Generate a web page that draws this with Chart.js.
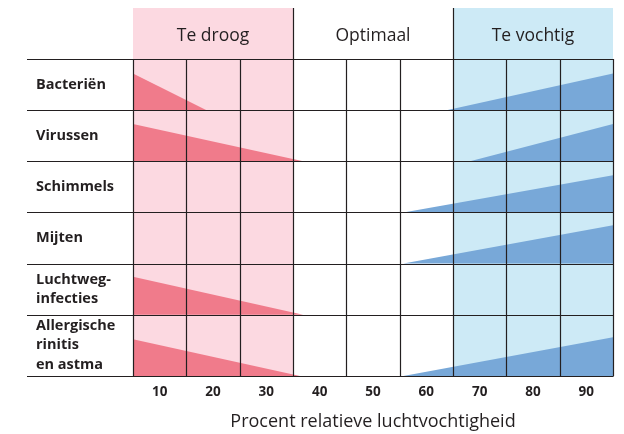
<!DOCTYPE html>
<html>
<head>
<meta charset="utf-8">
<script src="https://cdn.jsdelivr.net/npm/chart.js@4.4.1/dist/chart.umd.min.js"></script>
<style>
  html, body { margin: 0; padding: 0; background: #fff; }
  #wrap { width: 624px; height: 434px; }
</style>
</head>
<body>
<div id="wrap"><canvas id="rvChart" width="624" height="434"></canvas></div>
<script>
const categories = [
  "Bacteriën",
  "Virussen",
  "Schimmels",
  "Mijten",
  ["Luchtweg-", "infecties"],
  ["Allergische", "rinitis", "en astma"],
];
// where the "too dry" risk falls to zero (% RV), and its height at 5 %
const dryEnd = [18.8, 36.9, null, null, 36.9, 36.3];
const dryPeak = [0.72, 0.73, null, null, 0.74, 0.72];
// where the "too humid" risk begins (% RV), and its height at 95 %
const wetStart = [63.8, 68.2, 55.7, 55.7, null, 55.7];
const wetPeak = [0.72, 0.73, 0.73, 0.75, null, 0.76];

const zoneLabels = ["Te droog", "Optimaal", "Te vochtig"];
const zoneEdges = [5, 35, 65, 95];
const xTicks = [10, 20, 30, 40, 50, 60, 70, 80, 90];
const gridX = [5, 15, 25, 35, 45, 55, 65, 75, 85, 95];
// row edges on the y scale: header 0-1, then one band per category
const rowEdges = [0, 1, 2, 3, 4, 5, 6, 7.2];

const ink = "#231f20";
const pinkLight = "#fcd9e1";
const pinkDark = "#f07b8b";
const blueLight = "#cdeaf6";
const blueDark = "#78a8d8";

const datasets = [];
categories.forEach((c, i) => {
  const base = rowEdges[i + 2];
  if (dryEnd[i] !== null) {
    datasets.push({
      data: [{ x: 5, y: base - dryPeak[i] }, { x: dryEnd[i], y: base }],
      backgroundColor: pinkDark,
      borderWidth: 0,
      pointRadius: 0,
      fill: { value: base },
    });
  }
  if (wetStart[i] !== null) {
    datasets.push({
      data: [{ x: wetStart[i], y: base }, { x: 95, y: base - wetPeak[i] }],
      backgroundColor: blueDark,
      borderWidth: 0,
      pointRadius: 0,
      fill: { value: base },
    });
  }
});

const tablePlugin = {
  id: "table",
  beforeDatasetsDraw(chart) {
    const { ctx, scales: { x, y } } = chart;
    const top = y.getPixelForValue(rowEdges[0]);
    const bottom = y.getPixelForValue(rowEdges[rowEdges.length - 1]);
    ctx.save();
    ctx.fillStyle = pinkLight;
    ctx.fillRect(x.getPixelForValue(zoneEdges[0]), top,
      x.getPixelForValue(zoneEdges[1]) - x.getPixelForValue(zoneEdges[0]), bottom - top);
    ctx.fillStyle = blueLight;
    ctx.fillRect(x.getPixelForValue(zoneEdges[2]), top,
      x.getPixelForValue(zoneEdges[3]) - x.getPixelForValue(zoneEdges[2]), bottom - top);

    // zone headings
    ctx.fillStyle = ink;
    ctx.font = "17.5px 'Open Sans'";
    ctx.textAlign = "center";
    ctx.textBaseline = "middle";
    const midY = y.getPixelForValue((rowEdges[0] + rowEdges[1]) / 2) + 2;
    zoneLabels.forEach((t, i) => {
      const cx = x.getPixelForValue((zoneEdges[i] + zoneEdges[i + 1]) / 2);
      ctx.fillText(t, cx, midY);
    });
    ctx.restore();
  },
  afterDatasetsDraw(chart) {
    const { ctx, scales: { x, y } } = chart;
    ctx.save();
    ctx.strokeStyle = ink;
    ctx.lineWidth = 1.2;
    const right = x.getPixelForValue(95);
    const left = y.left - 9;
    // horizontal row lines
    rowEdges.slice(1).forEach((v) => {
      const py = Math.round(y.getPixelForValue(v)) + 0.5;
      ctx.beginPath();
      ctx.moveTo(left, py);
      ctx.lineTo(right + 0.6, py);
      ctx.stroke();
    });
    // vertical lines; zone borders run up through the header
    const bottom = y.getPixelForValue(rowEdges[rowEdges.length - 1]);
    gridX.forEach((v) => {
      const px = Math.round(x.getPixelForValue(v)) + 0.5;
      const fromY = (v === zoneEdges[1] || v === zoneEdges[2]) ? rowEdges[0] : rowEdges[1];
      ctx.beginPath();
      ctx.moveTo(px, y.getPixelForValue(fromY));
      ctx.lineTo(px, bottom);
      ctx.stroke();
    });
    ctx.restore();
  },
};

const ctx = document.getElementById("rvChart").getContext("2d");
new Chart(ctx, {
  type: "line",
  data: { datasets },
  options: {
    responsive: false,
    animation: false,
    layout: { padding: { left: 36, right: 11, top: 8, bottom: 0 } },
    plugins: { legend: { display: false }, tooltip: { enabled: false } },
    scales: {
      x: {
        type: "linear",
        min: 5,
        max: 95,
        afterBuildTicks: (scale) => {
          scale.ticks = xTicks.map((v) => ({ value: v }));
        },
        afterFit: (scale) => {
          scale.height = 58;
          scale.paddingLeft = 0;
          scale.paddingRight = 0;
        },
        grid: { display: false, drawTicks: false },
        border: { display: false },
        ticks: {
          color: ink,
          padding: 8,
          maxRotation: 0,
          font: { family: "'Open Sans'", size: 13.5, weight: "bold" },
        },
        title: {
          display: true,
          text: "Procent relatieve luchtvochtigheid",
          color: ink,
          font: { family: "'Open Sans'", size: 18 },
          padding: { top: 9, bottom: 1 },
        },
      },
      y: {
        type: "linear",
        reverse: true,
        min: rowEdges[0],
        max: rowEdges[rowEdges.length - 1],
        afterBuildTicks: (scale) => {
          scale.ticks = categories.map((c, i) => ({ value: (rowEdges[i + 1] + rowEdges[i + 2]) / 2 }));
        },
        afterFit: (scale) => {
          scale.width = 97;
          scale.paddingTop = 0;
          scale.paddingBottom = 0;
        },
        grid: { display: false, drawTicks: false },
        border: { display: false },
        ticks: {
          color: ink,
          crossAlign: "far",
          autoSkip: false,
          callback: (value, index) => categories[index],
          font: { family: "'Open Sans'", size: 14.5, weight: "bold", lineHeight: 1.32 },
        },
      },
    },
  },
  plugins: [tablePlugin],
});
</script>
</body>
</html>
